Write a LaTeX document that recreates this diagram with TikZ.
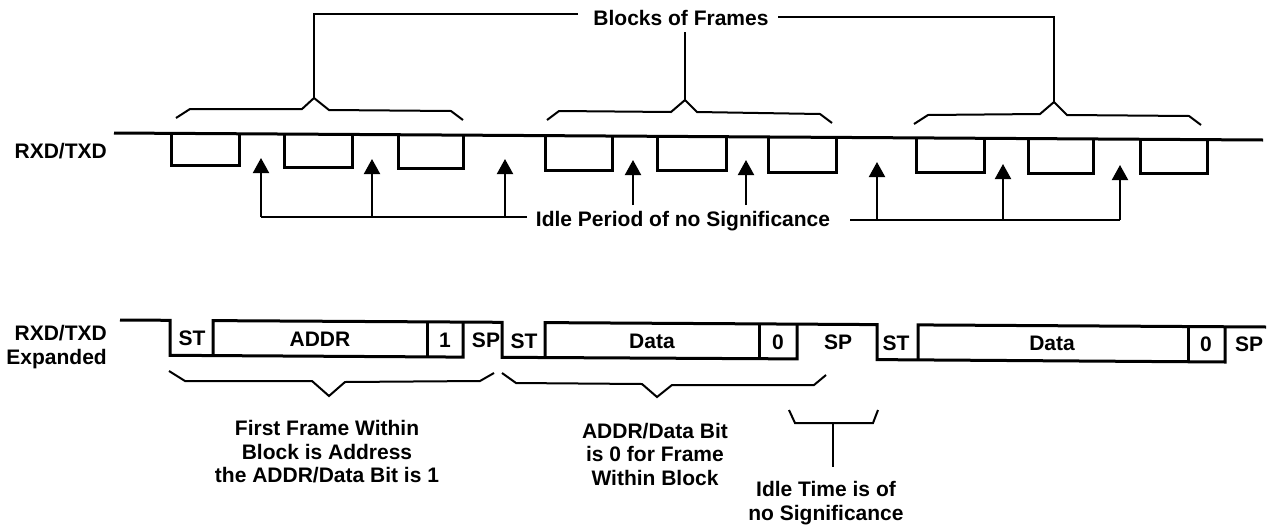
\documentclass[tikz,border=0pt]{standalone}
\usepackage{fontspec}
\setmainfont{Liberation Sans}
\usetikzlibrary{arrows.meta}
\begin{document}
\begin{tikzpicture}[x=1pt,y=-1pt,
  lbl/.style={font=\fontsize{21}{23.5}\selectfont\bfseries, inner sep=0pt, align=center},
  sig/.style={line width=3pt, line join=miter},
  brc/.style={line width=2pt, line join=miter},
  arr/.style={line width=2pt, -{Triangle[width=16pt,length=15pt]}}]
\useasboundingbox (0,0) rectangle (1270,528);

% ---------- top: labels ----------
\node[lbl] (blocks) at (681,18) {Blocks of Frames};
\node[lbl, anchor=east] (rxd1) at (107,151) {RXD/TXD};
\node[lbl] (idle) at (683,221) {Idle Period of no Significance};

% brace apexes
\coordinate (b1) at (314,98);
\coordinate (b2) at (685,100);
\coordinate (b3) at (1054,102);

% leaders from label to braces
\coordinate (lL) at (578,14);
\coordinate (lR) at (778,17);
\coordinate (lM) at (685,32);
\draw[brc] (lL) -- (314,14) -- (b1);
\draw[brc] (lR) -- (1054,17) -- (b3);
\draw[brc] (lM) -- (b2);

% braces (upper)
\draw[brc] (176,118) -- (190,109) -- (302,109) -- (b1) -- (329,110) -- (451,111) -- (463,120);
\draw[brc] (547,120) -- (559,111) -- (671,112) -- (b2) -- (697,112) -- (820,114) -- (832,123);
\draw[brc] (914,124) -- (928,115) -- (1040,114) -- (b3) -- (1067,115) -- (1189,116) -- (1201,125);

% signal line and frames
\coordinate (s0) at (114,133);
\coordinate (s1) at (1263,140);
\draw[sig] (s0) -- (s1);
\draw[sig] (171,133.3) -- (171,165) -- (239,165) -- (239,133.8);
\draw[sig] (284,134.0) -- (284,167) -- (352,167) -- (352,134.4);
\draw[sig] (398,134.7) -- (398,168) -- (463,168) -- (463,135.1);
\draw[sig] (545,135.6) -- (545,170) -- (612,170) -- (612,136.0);
\draw[sig] (657,136.3) -- (657,170) -- (726,170) -- (726,136.7);
\draw[sig] (768,137.0) -- (768,172) -- (836,172) -- (836,137.4);
\draw[sig] (916,137.9) -- (916,172) -- (984,172) -- (984,138.3);
\draw[sig] (1028,138.6) -- (1028,173) -- (1093,173) -- (1093,139.0);
\draw[sig] (1140,139.3) -- (1140,173) -- (1207,173) -- (1207,139.7);

% idle arrows
\coordinate (a1) at (261,217); \coordinate (t1) at (261,158);
\coordinate (a2) at (372,217); \coordinate (t2) at (372,159);
\coordinate (a3) at (505,217); \coordinate (t3) at (505,159);
\coordinate (a4) at (633,205); \coordinate (t4) at (633,160);
\coordinate (a5) at (746,205); \coordinate (t5) at (746,160);
\coordinate (a6) at (877,220); \coordinate (t6) at (877,162);
\coordinate (a7) at (1003,220); \coordinate (t7) at (1003,164);
\coordinate (a8) at (1120,220); \coordinate (t8) at (1120,165);
\coordinate (busL) at (527,217);
\coordinate (busR) at (850,220);
\draw[brc] (busL) -- (a1);
\draw[brc] (busR) -- (a8);
\foreach \i in {1,...,8} \draw[arr] (a\i) -- (t\i);

% ---------- bottom: expanded ----------
\node[lbl, align=right, anchor=east] (rxd2) at (107,347) {RXD/TXD\\Expanded};

\draw[sig] (120,320) -- (170,320.3) -- (170,355.3) -- (463,357.1) -- (463,322.1);
\draw[sig] (213,355.6) -- (213,320.6) -- (502,322.3) -- (502,357.3) -- (797,358.9) -- (797,324.1);
\draw[sig] (545,357.6) -- (545,322.6) -- (877,324.6) -- (877,359.6) -- (1225,362) -- (1225,326.8);
\draw[sig] (918,359.9) -- (918,324.9) -- (1266,327);
\draw[sig] (427,321.9) -- (427,356.9);
\draw[sig] (759,323.9) -- (759,358.9);
\draw[sig] (1188,326.5) -- (1188,361.5);

\node[lbl] (st1) at (192,338) {ST};
\node[lbl] (addr) at (320,339) {ADDR};
\node[lbl] (one) at (445,340) {1};
\node[lbl] (sp1) at (486,340) {SP};
\node[lbl] (st2) at (524,341) {ST};
\node[lbl] (data1) at (652,341) {Data};
\node[lbl] (zero1) at (778,342) {0};
\node[lbl] (sp2) at (838,342) {SP};
\node[lbl] (st3) at (896,343) {ST};
\node[lbl] (data2) at (1052,343) {Data};
\node[lbl] (zero2) at (1206,344) {0};
\node[lbl] (sp3) at (1249,344) {SP};

% lower braces
\coordinate (c1) at (329,396);
\coordinate (c2) at (657,397);
\coordinate (c3) at (833,423);
\coordinate (c3e) at (833,467);
\draw[brc] (169,371) -- (185,381) -- (312,381) -- (c1) -- (345,382) -- (480,381) -- (494,373);
\draw[brc] (502,373) -- (516,383) -- (642,384) -- (c2) -- (672,385) -- (814,385) -- (826,375);
\draw[brc] (789,410) -- (795,423) -- (873,423) -- (878,410);
\draw[brc] (c3) -- (c3e);

\node[lbl] (txt1) at (327,452) {First Frame Within\\Block is Address\\the ADDR/Data Bit is 1};
\node[lbl] (txt2) at (655,454) {ADDR/Data Bit\\is 0 for Frame\\Within Block};
\node[lbl] (txt3) at (826,503) {Idle Time is of\\no Significance};
\end{tikzpicture}
\end{document}
